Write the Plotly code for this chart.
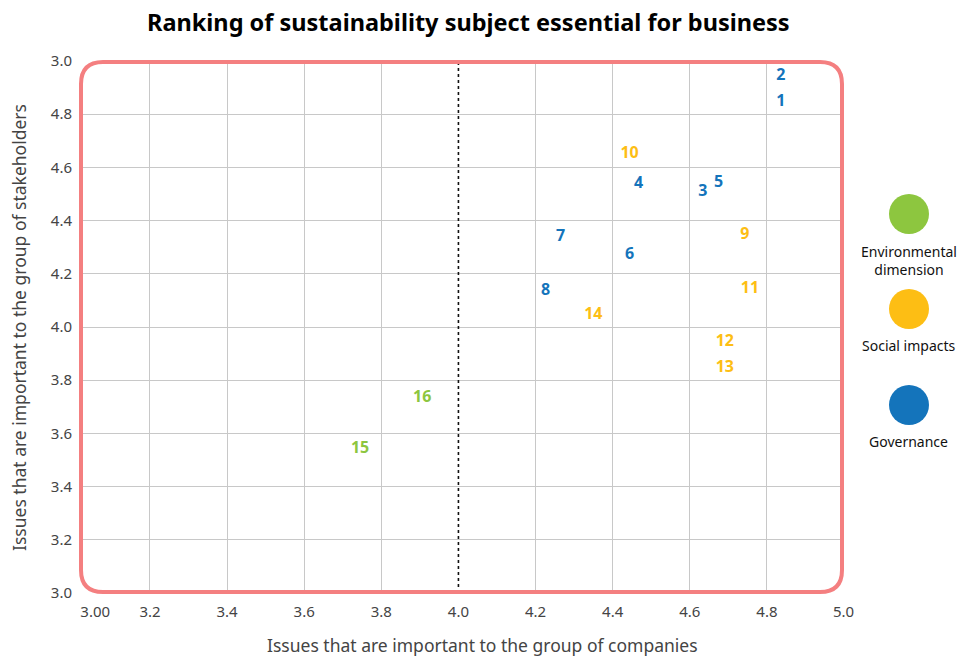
import plotly.graph_objects as go

W, H = 961, 659

# ---- data ----
issue_ids = ["1", "2", "3", "4", "5", "6", "7", "8", "9", "10", "11", "12", "13", "14", "15", "16"]
company_scores = [4.836, 4.836, 4.634, 4.467, 4.675, 4.444, 4.265, 4.226, 4.743, 4.444, 4.756, 4.691, 4.691, 4.350, 3.745, 3.906]
stakeholder_scores = [4.845, 4.943, 4.506, 4.536, 4.540, 4.272, 4.340, 4.136, 4.347, 4.649, 4.144, 3.944, 3.846, 4.046, 3.540, 3.732]
issue_group = ["Governance"] * 8 + ["Social impacts"] * 6 + ["Environmental dimension"] * 2

groups = ["Environmental dimension", "Social impacts", "Governance"]
group_labels = ["Environmental<br>dimension", "Social impacts", "Governance"]
group_colors = ["#8DC63F", "#FDBE14", "#1474BB"]

x_grid_ticks = [3.2, 3.4, 3.6, 3.8, 4.2, 4.4, 4.6, 4.8]
x_grid_text = ["3.2", "3.4", "3.6", "3.8", "4.2", "4.4", "4.6", "4.8"]
x_extra_ticks = [3.058, 4.0, 4.999]
x_extra_text = ["3.00", "4.0", "5.0"]
y_ticks = [3.0, 3.2, 3.4, 3.6, 3.8, 4.0, 4.2, 4.4, 4.6, 4.8, 5.0]
y_text = ["3.0", "3.2", "3.4", "3.6", "3.8", "4.0", "4.2", "4.4", "4.6", "4.8", "3.0"]

title_text = "Ranking of sustainability subject essential for business"
x_title = "Issues that are important to the group of companies"
y_title = "Issues that are important to the group of stakeholders"

# ---- layout geometry ----
ML, MR, MT, MB = 80, 117, 61, 66
PW, PH = W - ML - MR, H - MT - MB
X_RANGE = [3.0185, 5.0]
Y_RANGE = [3.0, 5.0]

def px_x(p):
    return (p - ML) / PW

def px_y(p):
    return (H - MB - p) / PH

FONT = "Noto Sans"
TICK_FONT = dict(family=FONT, size=15, color="#444444")
fig = go.Figure()

for g, c in zip(groups, group_colors):
    idx = [i for i, gg in enumerate(issue_group) if gg == g]
    fig.add_trace(go.Scatter(
        x=[company_scores[i] for i in idx],
        y=[stakeholder_scores[i] for i in idx],
        text=["<b>%s</b>" % issue_ids[i] for i in idx],
        mode="text",
        textposition="middle center",
        textfont=dict(family=FONT, size=16, color=c),
        name=g,
        showlegend=False,
        hoverinfo="skip",
    ))

# invisible trace on overlay axis to activate it
fig.add_trace(go.Scatter(x=[X_RANGE[0]], y=[Y_RANGE[0]], xaxis="x2", mode="markers",
                         marker=dict(opacity=0), showlegend=False, hoverinfo="skip"))

shapes = []
# dotted line at x=4.0
shapes.append(dict(type="line", xref="x", yref="paper", x0=4.0, x1=4.0, y0=0, y1=1,
                   line=dict(color="#111111", width=1.6, dash="dot"), layer="above"))

# rounded border
x0, x1 = px_x(81), px_x(842)
y0, y1 = px_y(592), px_y(62)
r = 22
rx, ry = r / PW, r / PH
path = (f"M {x0+rx},{y1} L {x1-rx},{y1} Q {x1},{y1} {x1},{y1-ry} "
        f"L {x1},{y0+ry} Q {x1},{y0} {x1-rx},{y0} L {x0+rx},{y0} "
        f"Q {x0},{y0} {x0},{y0+ry} L {x0},{y1-ry} Q {x0},{y1} {x0+rx},{y1} Z")
shapes.append(dict(type="path", xref="paper", yref="paper", path=path,
                   line=dict(color="#F47F80", width=4), layer="above"))

annotations = []
legend_cy = [214, 309, 405]
legend_ty = [260, 345, 441]
for lab, c, cy, ty in zip(group_labels, group_colors, legend_cy, legend_ty):
    shapes.append(dict(type="circle", xref="paper", yref="paper",
                       xsizemode="pixel", ysizemode="pixel",
                       xanchor=px_x(909), yanchor=px_y(cy),
                       x0=-20, x1=20, y0=-20, y1=20,
                       fillcolor=c, line=dict(width=0)))
    annotations.append(dict(xref="paper", yref="paper", x=px_x(909), y=px_y(ty),
                            text=lab, showarrow=False, align="center",
                            xanchor="center", yanchor="middle",
                            font=dict(family=FONT, size=14, color="#111111")))

annotations.append(dict(xref="paper", yref="paper", x=px_x(468), y=px_y(22),
                        text="<b>%s</b>" % title_text, showarrow=False,
                        xanchor="center", yanchor="middle",
                        font=dict(family=FONT, size=23.5, color="#000000")))
annotations.append(dict(xref="paper", yref="paper", x=px_x(482), y=px_y(645),
                        text=x_title, showarrow=False, xanchor="center", yanchor="middle",
                        font=dict(family=FONT, size=17.5, color="#444444")))
annotations.append(dict(xref="paper", yref="paper", x=px_x(19), y=px_y(328),
                        text=y_title, showarrow=False, textangle=-90,
                        xanchor="center", yanchor="middle",
                        font=dict(family=FONT, size=17.5, color="#444444")))

fig.update_layout(
    width=W, height=H,
    margin=dict(l=ML, r=MR, t=MT, b=MB, pad=0),
    paper_bgcolor="white", plot_bgcolor="white",
    xaxis=dict(range=X_RANGE, tickvals=x_grid_ticks, ticktext=x_grid_text,
               showgrid=True, gridcolor="#C8C8C8", gridwidth=1, zeroline=False,
               showline=False, ticks="", ticklen=0, ticklabelstandoff=8,
               tickfont=TICK_FONT),
    xaxis2=dict(range=X_RANGE, overlaying="x", side="bottom", anchor="y",
                tickvals=x_extra_ticks, ticktext=x_extra_text, showgrid=False,
                zeroline=False, showline=False, ticks="", ticklabelstandoff=8,
                tickfont=TICK_FONT),
    yaxis=dict(range=Y_RANGE, tickvals=y_ticks, ticktext=y_text,
               showgrid=True, gridcolor="#C8C8C8", gridwidth=1, zeroline=False,
               showline=False, ticks="", ticklen=0, ticklabelstandoff=7,
               tickfont=TICK_FONT),
    shapes=shapes,
    annotations=annotations,
    showlegend=False,
)

fig.write_html("out.html")
